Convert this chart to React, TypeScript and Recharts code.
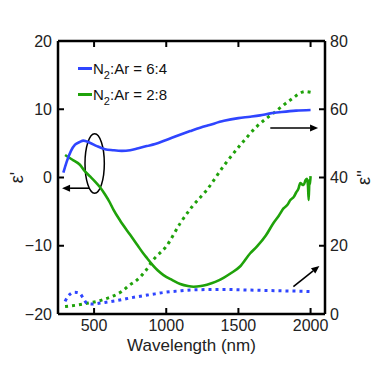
import React from "react";
import {
  LineChart,
  Line,
  XAxis,
  YAxis,
  Legend,
  ReferenceArea,
  ReferenceLine,
} from "recharts";

// ε' for N2:Ar = 6:4 (blue solid)
const blueReWl = [287, 310, 340, 368, 400, 426, 470, 520, 576, 630, 692, 750, 807, 865, 923, 1000, 1100, 1166, 1235, 1300, 1400, 1500, 1582, 1650, 1721, 1800, 1900, 2000];
const blueRe = [0.7, 2.3, 3.9, 4.8, 5.2, 5.4, 5.1, 4.6, 4.15, 4.0, 3.9, 4.0, 4.3, 4.6, 4.9, 5.5, 6.3, 6.8, 7.3, 7.7, 8.3, 8.7, 8.9, 9.1, 9.4, 9.6, 9.8, 9.9];

// ε' for N2:Ar = 2:8 (green solid)
const greenReWl = [299, 350, 400, 437, 470, 507, 540, 576, 610, 634, 680, 750, 800, 840, 870, 900, 940, 981, 1040, 1097, 1150, 1189, 1240, 1282, 1340, 1397, 1450, 1513, 1582, 1629, 1690, 1742, 1780, 1814, 1840, 1860, 1885, 1900, 1915, 1929, 1940, 1952, 1965, 1975, 1982, 1987, 1992, 1996, 2000];
const greenRe = [3.3, 2.6, 1.9, 0.9, 0.2, -0.6, -1.4, -2.5, -3.7, -4.7, -6.3, -8.4, -9.9, -11.1, -11.9, -12.7, -13.6, -14.3, -15.0, -15.6, -15.9, -16.0, -15.9, -15.7, -15.3, -14.7, -14.0, -13.0, -11.1, -10.1, -8.5, -6.7, -5.6, -4.5, -4.0, -3.3, -2.8, -2.2, -1.7, -0.8, -1.0, -1.1, -0.4, -0.2, -1.2, -3.3, -0.3, -1.0, 0.2];

// ε'' for N2:Ar = 6:4 (blue dotted)
const blueImWl = [299, 320, 340, 356, 380, 403, 425, 449, 480, 507, 576, 692, 750, 923, 981, 1100, 1213, 1400, 1582, 1800, 2000];
const blueIm = [3.7, 5.2, 6.0, 6.35, 6.3, 5.95, 4.6, 3.2, 2.9, 3.0, 3.4, 4.2, 4.7, 5.9, 6.3, 6.8, 7.1, 7.2, 7.0, 6.8, 6.6];

// ε'' for N2:Ar = 2:8 (green dotted)
const greenImWl = [299, 380, 460, 520, 576, 640, 692, 750, 784, 854, 911, 1000, 1097, 1180, 1282, 1400, 1513, 1629, 1756, 1860, 1964, 2000];
const greenIm = [2.2, 2.6, 3.2, 3.7, 4.4, 5.4, 6.6, 8.6, 9.5, 12.5, 15.9, 19.8, 26.6, 31.5, 36.4, 43.5, 49.5, 55.0, 59.3, 62.7, 65.2, 65.0];

const xTicks = [500, 1000, 1500, 2000];
const leftTicks = [-20, -10, 0, 10, 20];
const rightTicks = [0, 20, 40, 60, 80];
const legendLabels = [
  { ratio: "6:4", color: "#2f45ff" },
  { ratio: "2:8", color: "#1fa20a" },
];

const BLUE = "#2f45ff";
const GREEN = "#1fa20a";
const FONT = "'Liberation Sans', Arial, Helvetica, sans-serif";

const toData = (wl: number[], v: number[]) => wl.map((w, i) => ({ wl: w, v: v[i] }));
const minusFmt = (v: number) => String(v).replace("-", "\u2212");

const Arrow = (p: any) => {
  const { x1, y1, x2, y2 } = p;
  const ang = Math.atan2(y2 - y1, x2 - x1);
  const L = 8;
  const W = 3.5;
  const bx = x2 - L * Math.cos(ang);
  const by = y2 - L * Math.sin(ang);
  const px = -Math.sin(ang) * W;
  const py = Math.cos(ang) * W;
  return (
    <g>
      <line x1={x1} y1={y1} x2={bx} y2={by} stroke="#000" strokeWidth={1.6} />
      <polygon points={`${x2},${y2} ${bx + px},${by + py} ${bx - px},${by - py}`} fill="#000" />
    </g>
  );
};

const EllipseShape = (p: any) => (
  <ellipse
    cx={p.x + p.width / 2}
    cy={p.y + p.height / 2}
    rx={Math.abs(p.width) / 2}
    ry={Math.abs(p.height) / 2}
    fill="none"
    stroke="#000"
    strokeWidth={1.5}
  />
);

const LegendContent = () => (
  <div style={{ fontFamily: FONT, fontSize: 15, color: "#111" }}>
    {legendLabels.map((l) => (
      <div key={l.ratio} style={{ display: "flex", alignItems: "center", height: 26, whiteSpace: "nowrap" }}>
        <span style={{ display: "inline-block", width: 14, height: 3, background: l.color, marginRight: 1 }} />
        <span>
          N<span style={{ fontSize: 11, position: "relative", top: 5 }}>2</span>:Ar = {l.ratio}
        </span>
      </div>
    ))}
  </div>
);

const tickStyle = { fontSize: 16, fill: "#222", fontFamily: FONT };
const axisLineStyle = { stroke: "#000", strokeWidth: 2.5 };
const tickLineStyle = { stroke: "#000", strokeWidth: 2 };

export default function App() {
  return (
    <div style={{ position: "absolute", left: 0, top: 0, background: "#fff" }}>
      <LineChart width={382} height={370} margin={{ top: 40, right: 7, bottom: 16, left: 8 }}>
        <XAxis
          xAxisId="bottom"
          dataKey="wl"
          type="number"
          domain={[250, 2100]}
          ticks={xTicks}
          allowDataOverflow
          height={40}
          tickSize={-6}
          tickMargin={12}
          tick={tickStyle}
          axisLine={axisLineStyle}
          tickLine={tickLineStyle}
          label={{ value: "Wavelength (nm)", position: "insideBottom", offset: 3, style: { fontSize: 17, fill: "#222", fontFamily: FONT } }}
        />
        <XAxis
          xAxisId="top"
          orientation="top"
          dataKey="wl"
          type="number"
          domain={[250, 2100]}
          ticks={xTicks}
          allowDataOverflow
          height={1}
          tickSize={-6}
          tickFormatter={() => ""}
          axisLine={axisLineStyle}
          tickLine={tickLineStyle}
        />
        <YAxis
          yAxisId="left"
          type="number"
          domain={[-20, 20]}
          ticks={leftTicks}
          allowDataOverflow
          width={50}
          tickSize={-6}
          tickMargin={12}
          tick={tickStyle}
          tickFormatter={minusFmt}
          axisLine={axisLineStyle}
          tickLine={tickLineStyle}
          label={{ value: "ε'", angle: -90, position: "center", dx: -16, style: { fontSize: 18, fill: "#222", fontFamily: FONT } }}
        />
        <YAxis
          yAxisId="right"
          orientation="right"
          type="number"
          domain={[0, 80]}
          ticks={rightTicks}
          allowDataOverflow
          width={50}
          tickSize={-6}
          tickMargin={11}
          tick={tickStyle}
          axisLine={axisLineStyle}
          tickLine={tickLineStyle}
          label={{ value: "ε''", angle: -90, position: "center", dx: 14, style: { fontSize: 18, fill: "#222", fontFamily: FONT } }}
        />
        <Legend
          layout="vertical"
          align="center"
          verticalAlign="middle"
          content={LegendContent}
          wrapperStyle={{ position: "absolute", top: 55, left: 78, width: 130, height: 52 }}
        />
        <Line data={toData(greenImWl, greenIm)} dataKey="v" xAxisId="bottom" yAxisId="right" type="monotone" stroke={GREEN} strokeWidth={3} strokeDasharray="3 4" dot={false} isAnimationActive={false} />
        <Line data={toData(blueImWl, blueIm)} dataKey="v" xAxisId="bottom" yAxisId="right" type="monotone" stroke={BLUE} strokeWidth={3} strokeDasharray="3 4" dot={false} isAnimationActive={false} />
        <Line data={toData(greenReWl, greenRe)} dataKey="v" xAxisId="bottom" yAxisId="left" type="monotone" stroke={GREEN} strokeWidth={2.6} dot={false} isAnimationActive={false} />
        <Line data={toData(blueReWl, blueRe)} dataKey="v" xAxisId="bottom" yAxisId="left" type="monotone" stroke={BLUE} strokeWidth={2.6} dot={false} isAnimationActive={false} />
        <ReferenceArea xAxisId="bottom" yAxisId="left" x1={437} x2={571} y1={-2.3} y2={6.4} shape={EllipseShape} ifOverflow="visible" />
        <ReferenceLine xAxisId="bottom" yAxisId="left" segment={[{ x: 465, y: -1.57 }, { x: 278, y: -1.57 }]} shape={Arrow} ifOverflow="visible" />
        <ReferenceLine xAxisId="bottom" yAxisId="right" segment={[{ x: 1721, y: 54.5 }, { x: 2052, y: 54.5 }]} shape={Arrow} ifOverflow="visible" />
        <ReferenceLine xAxisId="bottom" yAxisId="right" segment={[{ x: 1881, y: 8.0 }, { x: 2061, y: 14.1 }]} shape={Arrow} ifOverflow="visible" />
      </LineChart>
    </div>
  );
}
